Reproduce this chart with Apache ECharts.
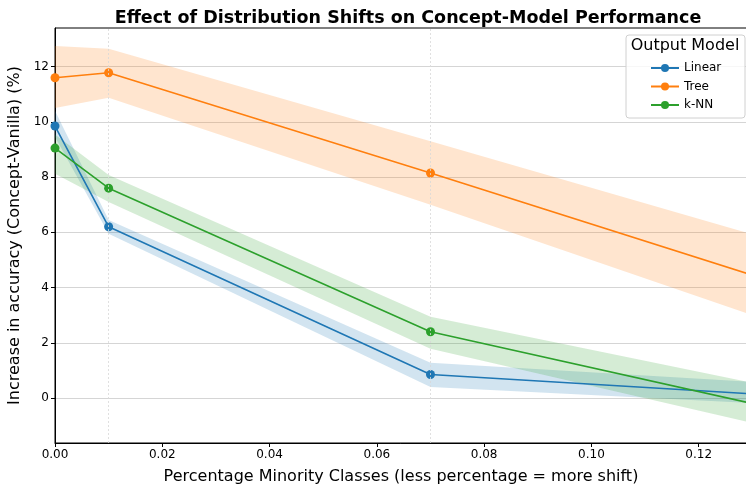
<!DOCTYPE html>
<html><head><meta charset="utf-8">
<script src="https://cdn.jsdelivr.net/npm/echarts@6/dist/echarts.min.js"></script>
<style>html,body{margin:0;padding:0;background:#fff}#c{width:746px;height:487px}</style>
</head><body><div id="c"></div>
<script>
const xs = [0, 0.01, 0.07, 0.13];
const linearMean = [9.85, 6.2, 0.85, 0.15];
const linearLow = [9.45, 5.95, 0.4, -0.18];
const linearHigh = [10.4, 6.45, 1.28, 0.58];
const treeMean = [11.6, 11.78, 8.15, 4.45];
const treeLow = [10.5, 10.87, 7.0, 3.0];
const treeHigh = [12.75, 12.65, 9.3, 5.93];
const knnMean = [9.05, 7.6, 2.4, -0.2];
const knnLow = [8.12, 7.1, 1.78, -0.9];
const knnHigh = [9.54, 8.08, 2.94, 0.55];
const xTicks = [0, 0.02, 0.04, 0.06, 0.08, 0.10, 0.12];
const yTicks = [0, 2, 4, 6, 8, 10, 12];
const markerXs = [0.01, 0.07];
const names = ['Linear', 'Tree', 'k-NN'];
const colors = ['#1f77b4', '#ff7f0e', '#2ca02c'];
const means = [linearMean, treeMean, knnMean];
const lows = [linearLow, treeLow, knnLow];
const highs = [linearHigh, treeHigh, knnHigh];
const FONT = 'DejaVu Sans';

function bandSeries(i) {
  const data = xs.map((x, k) => [x, lows[i][k], highs[i][k]]);
  return {
    type: 'custom', name: names[i] + ' band', clip: true, z: 1, silent: true,
    data: data,
    encode: { x: 0, y: [1, 2] },
    renderItem: function (params, api) {
      if (params.dataIndex !== 0) return null;
      const upper = data.map(d => api.coord([d[0], d[2]]));
      const lower = data.map(d => api.coord([d[0], d[1]])).reverse();
      return {
        type: 'polygon',
        shape: { points: upper.concat(lower) },
        style: { fill: colors[i], opacity: 0.2 }
      };
    }
  };
}
function lineSeries(i) {
  const s = {
    type: 'line', name: names[i], z: 3, clip: true,
    data: xs.map((x, k) => [x, means[i][k]]),
    symbol: 'circle', symbolSize: 9, showSymbol: true,
    itemStyle: { color: colors[i] },
    lineStyle: { color: colors[i], width: 1.6 }
  };
  if (i === 0) {
    s.markLine = {
      silent: true, symbol: 'none', label: { show: false },
      lineStyle: { color: '#d8d8d8', type: [2, 2], width: 0.8 },
      data: markerXs.map(v => ({ xAxis: v }))
    };
  }
  return s;
}

const chart = echarts.init(document.getElementById('c'));
chart.setOption({
  animation: false,
  textStyle: { fontFamily: FONT },
  title: [{
    text: 'Effect of Distribution Shifts on Concept-Model Performance',
    left: 403, top: 4, textAlign: 'center',
    textStyle: { fontFamily: FONT, fontSize: 17.5, fontWeight: 'bold', color: '#000' }
  }],
  graphic: [
    { type: 'rect', z: 50, shape: { x: 626, y: 35, width: 119, height: 83, r: 3 },
      style: { fill: 'rgba(255,255,255,0.8)', stroke: '#d0d0d0', lineWidth: 1 } },
    { type: 'text', z: 51, x: 685, y: 46,
      style: { text: 'Output Model', fontFamily: FONT, fontSize: 16, fill: '#000', align: 'center', verticalAlign: 'middle' } }
  ],
  legend: {
    data: names, orient: 'vertical', left: 645, top: 57, z: 60,
    itemWidth: 28, itemHeight: 10, itemGap: 6.5,
    textStyle: { fontFamily: FONT, fontSize: 12, color: '#000' }
  },
  grid: { left: 55, right: -1, top: 28, bottom: 44, outerBoundsMode: 'none', containLabel: false,
    show: true, borderColor: '#000', borderWidth: 1 },
  xAxis: {
    type: 'value', min: 0, max: 0.129,
    name: 'Percentage Minority Classes (less percentage = more shift)',
    nameLocation: 'middle', nameGap: 26,
    nameTextStyle: { fontFamily: FONT, fontSize: 16, color: '#000' },
    axisLine: { show: true, onZero: false, lineStyle: { color: '#000', width: 1 } },
    axisTick: { show: true, length: 4, customValues: xTicks, lineStyle: { color: '#000' } },
    axisLabel: { customValues: xTicks, fontFamily: FONT, fontSize: 12, color: '#000', margin: 6,
      formatter: v => Number(v).toFixed(2) },
    splitLine: { show: false }
  },
  yAxis: {
    type: 'value', min: -1.63, max: 13.4,
    name: 'Increase in accuracy (Concept-Vanilla) (%)',
    nameLocation: 'middle', nameGap: 28,
    nameTextStyle: { fontFamily: FONT, fontSize: 16, color: '#000' },
    axisLine: { show: true, onZero: false, lineStyle: { color: '#000', width: 1 } },
    axisTick: { show: true, length: 4, customValues: yTicks, lineStyle: { color: '#000' } },
    axisLabel: { customValues: yTicks, fontFamily: FONT, fontSize: 12, color: '#000', margin: 6,
      formatter: v => String(Math.round(v)) },
    splitLine: { show: true, lineStyle: { color: '#d5d5d5', width: 1 } }
  },
  series: [0, 1, 2].map(bandSeries).concat([0, 1, 2].map(lineSeries))
});
</script>
</body></html>
